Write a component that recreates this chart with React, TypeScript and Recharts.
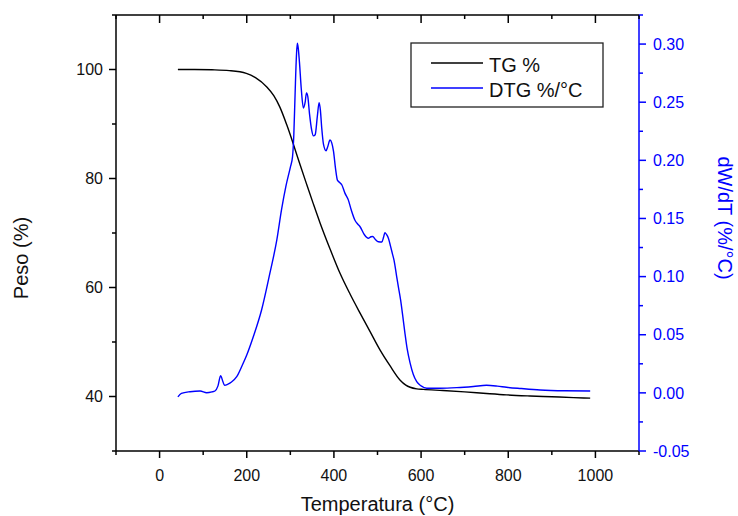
import React from 'react';
import { LineChart, Line, XAxis, YAxis, Label } from 'recharts';

// TG curve (temperature °C, weight %)
const tgTemp = [42, 80, 120, 160, 199, 220, 246, 262, 276, 292, 307, 322, 338, 353, 368, 390, 414, 437, 460, 483, 506, 529, 552, 565, 575, 590, 605, 650, 700, 750, 796, 850, 900, 950, 988];
const tgPeso = [100.0, 100.0, 99.95, 99.8, 99.3, 98.5, 96.8, 95.2, 93.1, 89.8, 86.3, 82.6, 78.8, 75.3, 71.9, 67.3, 62.6, 58.8, 55.3, 51.9, 48.5, 45.6, 43.0, 42.1, 41.7, 41.4, 41.3, 41.1, 40.85, 40.55, 40.3, 40.1, 39.95, 39.8, 39.7];

// DTG curve (temperature °C, %/°C)
const dtgTemp = [42, 50, 70, 93, 108, 120, 127, 134, 140, 145, 149, 157, 165, 177, 190, 200, 215, 234, 253, 269, 280, 290, 300, 305, 308, 311, 314, 316, 318, 321, 325, 330, 334, 337, 340, 344, 349, 353, 357, 362, 366, 369, 372, 376, 382, 386, 391, 395, 399, 404, 408, 413, 418, 425, 433, 440, 448, 455, 460, 470, 479, 485, 489, 495, 502, 510, 514, 517, 521, 525, 530, 534, 538, 544, 548, 553, 558, 563, 568, 575, 582, 590, 600, 613, 643, 682, 720, 750, 775, 796, 830, 873, 930, 988];
const dtgRate = [-0.0035, -0.0005, 0.001, 0.0016, 0.0001, 0.0008, 0.0016, 0.006, 0.0148, 0.01, 0.0065, 0.0075, 0.0093, 0.0139, 0.024, 0.0326, 0.0483, 0.0713, 0.1028, 0.1315, 0.158, 0.178, 0.194, 0.203, 0.222, 0.258, 0.29, 0.3007, 0.297, 0.284, 0.262, 0.245, 0.25, 0.258, 0.255, 0.24, 0.226, 0.221, 0.222, 0.238, 0.2496, 0.243, 0.228, 0.214, 0.2083, 0.212, 0.2175, 0.215, 0.208, 0.192, 0.183, 0.181, 0.179, 0.172, 0.166, 0.157, 0.1487, 0.145, 0.1429, 0.136, 0.133, 0.1343, 0.1345, 0.132, 0.13, 0.1298, 0.134, 0.1378, 0.136, 0.133, 0.126, 0.12, 0.114, 0.1, 0.091, 0.08, 0.066, 0.0512, 0.038, 0.0254, 0.016, 0.0096, 0.006, 0.004, 0.004, 0.0045, 0.0055, 0.0065, 0.0058, 0.0048, 0.0037, 0.0025, 0.0018, 0.0016];

// Axis ticks
const xTicks = [-100, 0, 100, 200, 300, 400, 500, 600, 700, 800, 900, 1000, 1100];
const xMajor = [0, 200, 400, 600, 800, 1000];
const leftTicks = [30, 40, 50, 60, 70, 80, 90, 100, 110];
const leftMajor = [40, 60, 80, 100];
const rightTicks = [-0.05, -0.025, 0, 0.025, 0.05, 0.075, 0.1, 0.125, 0.15, 0.175, 0.2, 0.225, 0.25, 0.275, 0.3, 0.325];
const rightMajor = [-0.05, 0, 0.05, 0.1, 0.15, 0.2, 0.25, 0.3];

const seriesNames = ['TG %', 'DTG %/°C'];
const axisTitles = { x: 'Temperatura (°C)', left: 'Peso (%)', right: 'dW/dT (%/°C)' };

const tgData = tgTemp.map((t, i) => ({ t, tg: tgPeso[i] }));
const dtgData = dtgTemp.map((t, i) => ({ t, dtg: dtgRate[i] }));

const FONT = '"Liberation Sans", Arial, sans-serif';
const BLUE = '#0000ff';
const BLACK = '#000000';

const isIn = (arr: number[], v: number) => arr.some((a) => Math.abs(a - v) < 1e-9);

const BottomTick = (props: any) => {
  const { x, y, payload } = props;
  const major = isIn(xMajor, payload.value);
  return (
    <g>
      <line x1={x} y1={y} x2={x} y2={y + (major ? 7 : 4)} stroke={BLACK} strokeWidth={1.5} />
      {major && (
        <text x={x} y={y + 30} textAnchor="middle" fontSize={16} fontFamily={FONT} fill="#111">
          {payload.value}
        </text>
      )}
    </g>
  );
};

const TopTick = (props: any) => {
  const { x, y, payload } = props;
  const major = isIn(xMajor, payload.value);
  return <line x1={x} y1={y} x2={x} y2={y + (major ? 8 : 4)} stroke={BLACK} strokeWidth={1.5} />;
};

const LeftTick = (props: any) => {
  const { x, y, payload } = props;
  const major = isIn(leftMajor, payload.value);
  return (
    <g>
      <line x1={x} y1={y} x2={x - (major ? 7 : 4)} y2={y} stroke={BLACK} strokeWidth={1.5} />
      {major && (
        <text x={x - 13} y={y + 5.7} textAnchor="end" fontSize={16} fontFamily={FONT} fill="#111">
          {payload.value}
        </text>
      )}
    </g>
  );
};

const RightTick = (props: any) => {
  const { x, y, payload } = props;
  const major = isIn(rightMajor, payload.value);
  return (
    <g>
      <line x1={x} y1={y} x2={x + (major ? 7 : 4)} y2={y} stroke={BLUE} strokeWidth={1.5} />
      {major && (
        <text x={x + 14} y={y + 5.7} textAnchor="start" fontSize={16} fontFamily={FONT} fill={BLUE}>
          {Number(payload.value).toFixed(2)}
        </text>
      )}
    </g>
  );
};

const LegendBox = () => (
  <svg
    width={194}
    height={66}
    style={{ position: 'absolute', left: 410, top: 42, overflow: 'visible' }}
  >
    <rect x={1} y={1} width={192} height={64} fill="#fff" stroke="#222" strokeWidth={1.3} />
    <line x1={21} y1={21} x2={73} y2={21} stroke={BLACK} strokeWidth={1.4} />
    <text x={79} y={29.5} fontSize={20} fontFamily={FONT} fill="#111">{seriesNames[0]}</text>
    <line x1={21} y1={46} x2={73} y2={46} stroke={BLUE} strokeWidth={1.4} />
    <text x={79} y={54.5} fontSize={20} fontFamily={FONT} fill="#111">{seriesNames[1]}</text>
  </svg>
);

export default function App() {
  return (
    <div style={{ position: 'absolute', left: 0, top: 0, width: 738, height: 516, background: '#fff' }}>
      <LineChart width={738} height={516} margin={{ top: 5, right: 0, bottom: 0, left: 0 }}>
        <XAxis
          xAxisId="bottom"
          dataKey="t"
          type="number"
          domain={[-100, 1100]}
          ticks={xTicks}
          interval={0}
          allowDataOverflow
          height={65}
          tickSize={0}
          tickMargin={0}
          tickLine={false}
          axisLine={{ stroke: BLACK, strokeWidth: 1.5 }}
          tick={<BottomTick />}
        >
          <Label
            content={(p: any) => {
              const vb = p.viewBox || { x: 116, y: 451, width: 523, height: 65 };
              return (
                <text
                  x={vb.x + vb.width / 2}
                  y={vb.y + 60}
                  textAnchor="middle"
                  fontSize={20}
                  fontFamily={FONT}
                  fill="#111"
                >
                  {axisTitles.x}
                </text>
              );
            }}
          />
        </XAxis>
        <XAxis
          xAxisId="top"
          orientation="top"
          dataKey="t"
          type="number"
          domain={[-100, 1100]}
          ticks={xTicks}
          interval={0}
          allowDataOverflow
          height={10}
          tickSize={0}
          tickMargin={0}
          tickLine={false}
          axisLine={{ stroke: BLACK, strokeWidth: 1.5 }}
          tick={<TopTick />}
        />
        <YAxis
          yAxisId="left"
          orientation="left"
          type="number"
          domain={[30, 110]}
          ticks={leftTicks}
          interval={0}
          allowDataOverflow
          width={116}
          tickSize={0}
          tickMargin={0}
          tickLine={false}
          axisLine={{ stroke: BLACK, strokeWidth: 1.5 }}
          tick={<LeftTick />}
        >
          <Label
            content={(p: any) => {
              const vb = p.viewBox || { x: 0, y: 15, width: 116, height: 436 };
              const cx = vb.x + 28;
              const cy = vb.y + vb.height / 2 + 25;
              return (
                <text
                  x={cx}
                  y={cy}
                  transform={`rotate(-90 ${cx} ${cy})`}
                  textAnchor="middle"
                  fontSize={20}
                  fontFamily={FONT}
                  fill="#111"
                >
                  {axisTitles.left}
                </text>
              );
            }}
          />
        </YAxis>
        <YAxis
          yAxisId="right"
          orientation="right"
          type="number"
          domain={[-0.05, 0.325]}
          ticks={rightTicks}
          interval={0}
          allowDataOverflow
          width={99}
          tickSize={0}
          tickMargin={0}
          tickLine={false}
          axisLine={{ stroke: BLUE, strokeWidth: 1.5 }}
          tick={<RightTick />}
        >
          <Label
            content={(p: any) => {
              const vb = p.viewBox || { x: 639, y: 15, width: 99, height: 436 };
              const cx = vb.x + 79;
              const cy = vb.y + vb.height / 2 - 15;
              return (
                <text
                  x={cx}
                  y={cy}
                  transform={`rotate(90 ${cx} ${cy})`}
                  textAnchor="middle"
                  fontSize={20}
                  fontFamily={FONT}
                  fill={BLUE}
                >
                  {axisTitles.right}
                </text>
              );
            }}
          />
        </YAxis>
        <Line
          data={tgData}
          xAxisId="bottom"
          yAxisId="left"
          dataKey="tg"
          name={seriesNames[0]}
          type="monotone"
          stroke={BLACK}
          strokeWidth={1.4}
          dot={false}
          activeDot={false}
          isAnimationActive={false}
        />
        <Line
          data={dtgData}
          xAxisId="bottom"
          yAxisId="right"
          dataKey="dtg"
          name={seriesNames[1]}
          type="monotone"
          stroke={BLUE}
          strokeWidth={1.4}
          dot={false}
          activeDot={false}
          isAnimationActive={false}
        />
      </LineChart>
      <LegendBox />
    </div>
  );
}
